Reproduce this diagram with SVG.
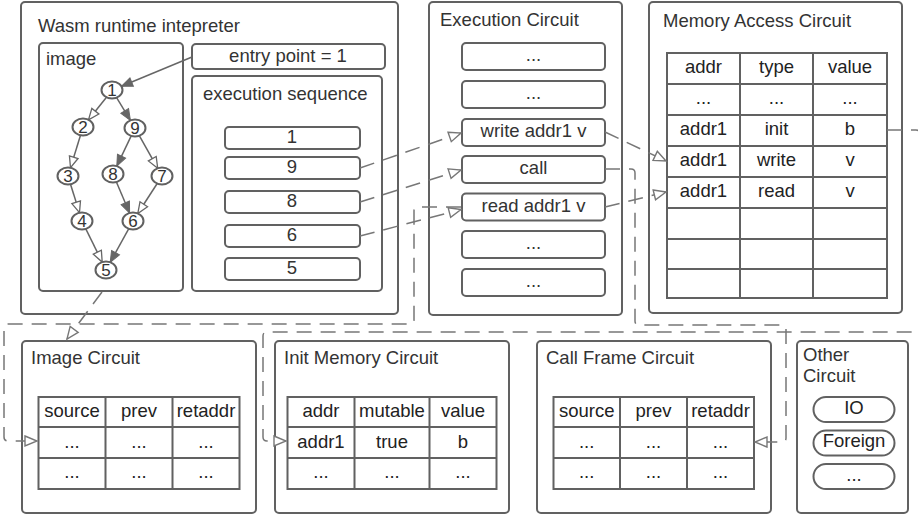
<svg xmlns="http://www.w3.org/2000/svg" width="918" height="518" viewBox="0 0 918 518">
<style>
.box{fill:#fff;stroke:#616161;stroke-width:2}
.sub{fill:#fff;stroke:#616161;stroke-width:2}
.t{font-family:"Liberation Sans",Arial,sans-serif;font-size:18.5px;fill:#333}
.tt{font-family:"Liberation Sans",Arial,sans-serif;font-size:18.5px;fill:#222;text-anchor:middle}
.c{text-anchor:middle}
.grid{stroke:#616161;stroke-width:2;fill:none}
.node{fill:#fff;stroke:#616161;stroke-width:2}
.num{font-family:"Liberation Sans",Arial,sans-serif;font-size:17px;fill:#333;text-anchor:middle}
.edge{stroke:#666;stroke-width:1.5;fill:none}
.dash{stroke:#777;stroke-width:1.5;fill:none;stroke-dasharray:15 9}
</style>
<defs>
<marker id="af" markerUnits="userSpaceOnUse" markerWidth="12" markerHeight="10" refX="11" refY="4.5" orient="auto" overflow="visible">
<path d="M0,0 L11,4.5 L0,9 z" fill="#666" stroke="#666" stroke-width="1"/>
</marker>
<marker id="ah" markerUnits="userSpaceOnUse" markerWidth="12" markerHeight="10" refX="11" refY="4.5" orient="auto" overflow="visible">
<path d="M0,0 L11,4.5 L0,9 z" fill="#fff" stroke="#666" stroke-width="1.3"/>
</marker>
<marker id="ad" markerUnits="userSpaceOnUse" markerWidth="14" markerHeight="12" refX="12" refY="5" orient="auto" overflow="visible">
<path d="M0,0 L12,5 L0,10 z" fill="#fff" stroke="#777" stroke-width="1.4" stroke-dasharray="none"/>
</marker>
</defs>

<g id="wasm-runtime">
<rect class="box" x="21" y="2" width="377" height="312" rx="4"/>
<text class="t" x="38" y="32">Wasm runtime intepreter</text>
</g>

<g id="image">
<rect class="sub" x="39" y="43" width="144" height="248" rx="4"/>
<text class="t" x="46" y="65">image</text>
</g>

<g id="entry-point">
<rect class="sub" x="192" y="44" width="193" height="25" rx="4"/>
<text class="t c" x="288" y="62">entry point = 1</text>
</g>

<g id="execution-sequence">
<rect class="sub" x="192" y="76" width="190" height="215" rx="4"/>
<text class="t" x="203" y="100">execution sequence</text>
<rect class="sub" x="225" y="127" width="135" height="22" rx="4"/>
<text class="t c" x="292" y="143">1</text>
<rect class="sub" x="225" y="157" width="135" height="22" rx="4"/>
<text class="t c" x="292" y="173">9</text>
<rect class="sub" x="225" y="191" width="135" height="22" rx="4"/>
<text class="t c" x="292" y="207">8</text>
<rect class="sub" x="225" y="225" width="135" height="22" rx="4"/>
<text class="t c" x="292" y="241">6</text>
<rect class="sub" x="225" y="258" width="135" height="22" rx="4"/>
<text class="t c" x="292" y="274">5</text>
</g>

<g id="graph-edges">
<line class="edge" x1="106.5" y1="97.2" x2="88.5" y2="119.8" marker-end="url(#ah)"/>
<line class="edge" x1="116.6" y1="97.6" x2="130.4" y2="120.4" marker-end="url(#af)"/>
<line class="edge" x1="80.5" y1="135.3" x2="70.5" y2="167.7" marker-end="url(#ah)"/>
<line class="edge" x1="131.2" y1="135.9" x2="116.8" y2="166.1" marker-end="url(#af)"/>
<line class="edge" x1="139.3" y1="135.7" x2="157.7" y2="168.3" marker-end="url(#ah)"/>
<line class="edge" x1="70.5" y1="184.3" x2="79.5" y2="212.7" marker-end="url(#ah)"/>
<line class="edge" x1="116.4" y1="182" x2="129.6" y2="213" marker-end="url(#af)"/>
<line class="edge" x1="157.2" y1="183.5" x2="137.8" y2="213.5" marker-end="url(#ah)"/>
<line class="edge" x1="85.8" y1="228.9" x2="102.2" y2="262.1" marker-end="url(#ah)"/>
<line class="edge" x1="128.8" y1="228.7" x2="110.2" y2="262.3" marker-end="url(#af)"/>
<line class="edge" x1="192" y1="57" x2="121.5" y2="86.3" marker-end="url(#af)"/>
</g>

<g id="node-1"><ellipse class="node" cx="112" cy="90" rx="10.5" ry="8.5"/><text class="num" x="112" y="96">1</text></g>
<g id="node-2"><ellipse class="node" cx="83" cy="127" rx="10.5" ry="8.5"/><text class="num" x="83" y="133">2</text></g>
<g id="node-9"><ellipse class="node" cx="135" cy="128" rx="10.5" ry="8.5"/><text class="num" x="135" y="134">9</text></g>
<g id="node-3"><ellipse class="node" cx="68" cy="176" rx="10.5" ry="8.5"/><text class="num" x="68" y="182">3</text></g>
<g id="node-8"><ellipse class="node" cx="113" cy="174" rx="10.5" ry="8.5"/><text class="num" x="113" y="180">8</text></g>
<g id="node-7"><ellipse class="node" cx="162" cy="176" rx="10.5" ry="8.5"/><text class="num" x="162" y="182">7</text></g>
<g id="node-4"><ellipse class="node" cx="82" cy="221" rx="10.5" ry="8.5"/><text class="num" x="82" y="227">4</text></g>
<g id="node-6"><ellipse class="node" cx="133" cy="221" rx="10.5" ry="8.5"/><text class="num" x="133" y="227">6</text></g>
<g id="node-5"><ellipse class="node" cx="106" cy="270" rx="10.5" ry="8.5"/><text class="num" x="106" y="276">5</text></g>

<g id="execution-circuit">
<rect class="box" x="429" y="2" width="193" height="313" rx="4"/>
<text class="t" x="440" y="26">Execution Circuit</text>
<rect class="sub" x="462" y="43" width="143" height="27" rx="4"/>
<text class="t c" x="533.5" y="61">...</text>
<rect class="sub" x="462" y="81" width="143" height="27" rx="4"/>
<text class="t c" x="533.5" y="99">...</text>
<rect class="sub" x="462" y="119" width="143" height="27" rx="4"/>
<text class="t c" x="533.5" y="137">write addr1 v</text>
<rect class="sub" x="462" y="156" width="143" height="27" rx="4"/>
<text class="t c" x="533.5" y="174">call</text>
<rect class="sub" x="462" y="193.5" width="143" height="27" rx="4"/>
<text class="t c" x="533.5" y="211.5">read addr1 v</text>
<rect class="sub" x="462" y="231" width="143" height="27" rx="4"/>
<text class="t c" x="533.5" y="249">...</text>
<rect class="sub" x="462" y="269" width="143" height="27" rx="4"/>
<text class="t c" x="533.5" y="287">...</text>
</g>

<g id="memory-access-circuit">
<rect class="box" x="649" y="2" width="253" height="311" rx="4"/>
<text class="t" x="663" y="27">Memory Access Circuit</text>
<rect class="grid" x="667" y="53" width="220" height="245"/>
<path class="grid" d="M740,53V298M813,53V298M667,84H887M667,115H887M667,146H887M667,177H887M667,208H887M667,239H887M667,269H887"/>
<text class="tt" x="703.5" y="73">addr</text>
<text class="tt" x="776.5" y="73">type</text>
<text class="tt" x="850" y="73">value</text>
<text class="tt" x="703.5" y="104">...</text>
<text class="tt" x="776.5" y="104">...</text>
<text class="tt" x="850" y="104">...</text>
<text class="tt" x="703.5" y="135">addr1</text>
<text class="tt" x="776.5" y="135">init</text>
<text class="tt" x="850" y="135">b</text>
<text class="tt" x="703.5" y="166">addr1</text>
<text class="tt" x="776.5" y="166">write</text>
<text class="tt" x="850" y="166">v</text>
<text class="tt" x="703.5" y="197">addr1</text>
<text class="tt" x="776.5" y="197">read</text>
<text class="tt" x="850" y="197">v</text>
</g>

<g id="image-circuit">
<rect class="box" x="22" y="341" width="234" height="172" rx="4"/>
<text class="t" x="31" y="364">Image Circuit</text>
<rect class="grid" x="38.5" y="397" width="201" height="92"/>
<path class="grid" d="M105.5,397V489M172.5,397V489M38.5,427H239.5M38.5,458H239.5"/>
<text class="tt" x="72" y="417">source</text>
<text class="tt" x="139" y="417">prev</text>
<text class="tt" x="206" y="417">retaddr</text>
<text class="tt" x="72" y="447.5">...</text>
<text class="tt" x="139" y="447.5">...</text>
<text class="tt" x="206" y="447.5">...</text>
<text class="tt" x="72" y="478">...</text>
<text class="tt" x="139" y="478">...</text>
<text class="tt" x="206" y="478">...</text>
</g>

<g id="init-memory-circuit">
<rect class="box" x="275" y="341" width="234" height="172" rx="4"/>
<text class="t" x="284" y="364">Init Memory Circuit</text>
<rect class="grid" x="287.5" y="397" width="209" height="92"/>
<path class="grid" d="M354.5,397V489M429.5,397V489M287.5,427H496.5M287.5,458H496.5"/>
<text class="tt" x="321" y="417">addr</text>
<text class="tt" x="392" y="417">mutable</text>
<text class="tt" x="463" y="417">value</text>
<text class="tt" x="321" y="447.5">addr1</text>
<text class="tt" x="392" y="447.5">true</text>
<text class="tt" x="463" y="447.5">b</text>
<text class="tt" x="321" y="478">...</text>
<text class="tt" x="392" y="478">...</text>
<text class="tt" x="463" y="478">...</text>
</g>

<g id="call-frame-circuit">
<rect class="box" x="537" y="341" width="234" height="172" rx="4"/>
<text class="t" x="546" y="364">Call Frame Circuit</text>
<rect class="grid" x="553.5" y="397" width="200.5" height="92"/>
<path class="grid" d="M620,397V489M687,397V489M553.5,427H754M553.5,458H754"/>
<text class="tt" x="586.7" y="417">source</text>
<text class="tt" x="653.5" y="417">prev</text>
<text class="tt" x="720.5" y="417">retaddr</text>
<text class="tt" x="586.7" y="447.5">...</text>
<text class="tt" x="653.5" y="447.5">...</text>
<text class="tt" x="720.5" y="447.5">...</text>
<text class="tt" x="586.7" y="478">...</text>
<text class="tt" x="653.5" y="478">...</text>
<text class="tt" x="720.5" y="478">...</text>
</g>

<g id="other-circuit">
<rect class="box" x="797" y="341" width="111" height="172" rx="4"/>
<text class="t" x="803" y="361">Other</text>
<text class="t" x="803" y="382">Circuit</text>
<rect class="sub" x="813.5" y="397" width="81" height="25" rx="12.5"/>
<text class="tt" x="854" y="413.5">IO</text>
<rect class="sub" x="813.5" y="430.5" width="81" height="25" rx="12.5"/>
<text class="tt" x="854" y="447">Foreign</text>
<rect class="sub" x="813.5" y="464" width="81" height="25" rx="12.5"/>
<text class="tt" x="854" y="480.5">...</text>
</g>

<g id="connectors">
<path class="dash" d="M360,168 L461,133" marker-end="url(#ad)"/>
<path class="dash" d="M360,202 L461,170" marker-end="url(#ad)"/>
<path class="dash" d="M360,236 L461,209.5" marker-end="url(#ad)"/>
<path class="dash" d="M102,292 L67,339" marker-end="url(#ad)"/>
<path class="dash" d="M605,132 L666,161" marker-end="url(#ad)"/>
<path class="dash" d="M605,207 L666,192" marker-end="url(#ad)"/>
<path class="dash" d="M605,169 H631 Q635,169 635,173 V321 Q635,325 639,325 H782 Q786,325 786,329 V438 Q786,442 782,442 H755" marker-end="url(#ad)"/>
<path class="dash" d="M461,207 H418 Q414,207 414,211 V320 Q414,324 410,324 H8 Q4,324 4,328 V437 Q4,441 8,441 H37" marker-end="url(#ad)"/>
<path class="dash" d="M887,130 H916 Q920,130 920,134 V328 Q920,332 916,332 H267 Q263,332 263,336 V437 Q263,441 267,441 H286" marker-end="url(#ad)"/>
</g>
</svg>
